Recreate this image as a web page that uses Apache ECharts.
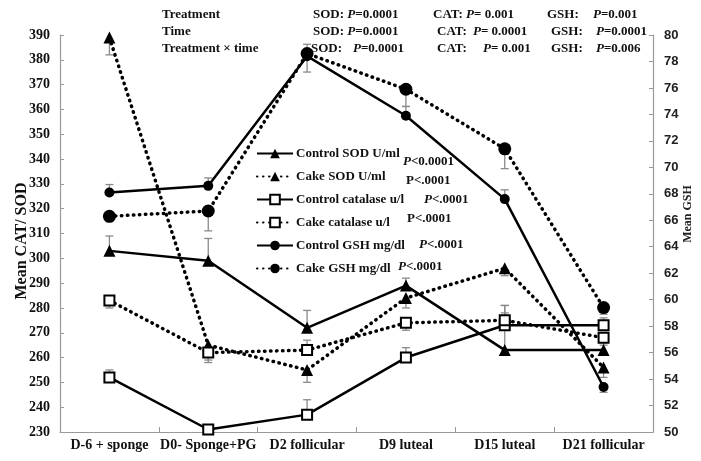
<!DOCTYPE html>
<html><head><meta charset="utf-8">
<script src="https://cdn.jsdelivr.net/npm/echarts@6/dist/echarts.min.js"></script>
<style>html,body{margin:0;padding:0;background:#fff}#c{width:701px;height:461px}</style>
</head><body><div id="c"></div>
<script>
const categories = ['D-6 + sponge','D0- Sponge+PG','D2 follicular','D9 luteal','D15 luteal','D21 follicular'];
const controlSOD = [303, 299, 272, 289, 263, 263];
const cakeSOD    = [389, 265, 255, 284, 296, 256];
const controlCAT = [252, 231, 237, 260, 273, 273];
const cakeCAT    = [283, 262, 263, 274, 275, 268];
const controlGSH = [68.1, 68.6, 78.4, 73.9, 67.6, 53.4];
const cakeGSH    = [66.3, 66.7, 78.6, 75.9, 71.4, 59.4];
// error bar end values (one-sided)
const controlSODErr = [309, 308, 279, 292, 281, 266];
const cakeSODErr    = [382, 258, 250, 280, 293, 252];
const controlCATErr = [255, null, 243, 264, 278, 276];
const cakeCATErr    = [280, 259, 267, 271, 281, 265];
const controlGSHErr = [68.7, 69.2, 77.2, 74.6, 68.3, 53.0];
const cakeGSHErr    = [65.9, 65.2, 79.3, 74.6, 69.9, 58.9];
const leftTicks = {min: 230, max: 390, interval: 10};
const rightTicks = {min: 50, max: 80, interval: 2};

const SERIF = '"Liberation Serif", "DejaVu Serif", serif';
const SANS = '"Liberation Sans", Arial, sans-serif';

function errSeries(vals, ends, axis) {
  const data = vals.map((v, i) => [i, v, ends[i] == null ? v : ends[i]]);
  return {
    type: 'custom', yAxisIndex: axis, z: 1, silent: true,
    renderItem: function (params, api) {
      const p = api.coord([api.value(0), api.value(1)]);
      const e = api.coord([api.value(0), api.value(2)]);
      if (Math.abs(p[1] - e[1]) < 0.5) return null;
      const w = 4;
      const st = {stroke: '#8a8a8a', lineWidth: 1.3};
      return {type: 'group', children: [
        {type: 'line', shape: {x1: p[0], y1: p[1], x2: e[0], y2: e[1]}, style: st},
        {type: 'line', shape: {x1: e[0] - w, y1: e[1], x2: e[0] + w, y2: e[1]}, style: st}
      ]};
    },
    data: data
  };
}
const dotted = {color: '#000', width: 3.5, type: [0.5, 5.5], cap: 'round'};
const solid = {color: '#000', width: 2.5};

function lineSeries(name, data, axis, symbol, size, ls, fill) {
  return {
    name: name, type: 'line', yAxisIndex: axis, data: data, z: 3,
    symbol: symbol, symbolSize: size, showSymbol: true,
    lineStyle: ls,
    itemStyle: {color: fill, borderColor: '#000', borderWidth: fill === '#fff' ? 2 : 0},
    emphasis: {disabled: true}
  };
}

const chart = echarts.init(document.getElementById('c'));
const axisLine = {show: true, lineStyle: {color: '#999', width: 1.2}};
chart.setOption({
  animation: false,
  backgroundColor: '#fff',
  grid: {left: 60, right: 48, top: 35, bottom: 29, containLabel: false, outerBoundsMode: 'none'},
  legend: {
    orient: 'vertical', left: 251, top: 142, itemWidth: 36, itemHeight: 12, itemGap: 10,
    textStyle: {fontFamily: SERIF, fontWeight: 'bold', fontSize: 13, color: '#111', padding: [0, 0, 0, -2]},
    data: ['Control SOD U/ml', 'Cake SOD U/ml', 'Control catalase u/l', 'Cake catalase u/l', 'Control GSH mg/dl', 'Cake GSH mg/dl']
  },
  xAxis: {
    type: 'category', data: categories, boundaryGap: true,
    axisLine: axisLine,
    axisTick: {show: true, inside: true, length: 5, lineStyle: {color: '#999'}},
    axisLabel: {fontFamily: SERIF, fontWeight: 'bold', fontSize: 14, color: '#111', margin: 6, interval: 0},
    splitLine: {show: false}
  },
  yAxis: [
    {type: 'value', min: leftTicks.min, max: leftTicks.max, interval: leftTicks.interval,
     axisLine: axisLine, axisTick: {show: true, inside: true, length: 4, lineStyle: {color: '#999'}},
     axisLabel: {fontFamily: SERIF, fontWeight: 'bold', fontSize: 14, color: '#111', margin: 10},
     splitLine: {show: false}},
    {type: 'value', min: rightTicks.min, max: rightTicks.max, interval: rightTicks.interval, position: 'right',
     axisLine: axisLine, axisTick: {show: true, inside: true, length: 4, lineStyle: {color: '#999'}},
     axisLabel: {fontFamily: SANS, fontWeight: 'bold', fontSize: 13, color: '#222', margin: 11},
     splitLine: {show: false}}
  ],
  graphic: (function () {
    const g = [];
    const base = {fontFamily: SERIF, fontWeight: 'bold', fontSize: 13, fill: '#111',
                  rich: {i: {fontFamily: SERIF, fontWeight: 'bold', fontStyle: 'italic', fontSize: 13, fill: '#111'}}};
    function t(x, y, text) {
      g.push({type: 'text', x: x, y: y, z: 10, style: Object.assign({text: text, verticalAlign: 'middle'}, base)});
    }
    t(162, 15, 'Treatment'); t(313, 15, 'SOD: {i|P}=0.0001'); t(433, 15, 'CAT: {i|P}= 0.001'); t(547, 15, 'GSH:'); t(593, 15, '{i|P}=0.001');
    t(162, 32, 'Time'); t(313, 32, 'SOD: {i|P}=0.0001'); t(437, 32, 'CAT:'); t(473, 32, '{i|P}= 0.0001'); t(551, 32, 'GSH:'); t(596, 32, '{i|P}=0.0001');
    t(162, 49, 'Treatment × time'); t(311, 49, 'SOD:'); t(353, 49, '{i|P}=0.0001'); t(437, 49, 'CAT:'); t(483, 49, '{i|P}= 0.001'); t(551, 49, 'GSH:'); t(596, 49, '{i|P}=0.006');
    t(403, 162, '{i|P}<0.0001');
    t(406, 181, 'P<.0001');
    t(424, 200, '{i|P}<.0001');
    t(407, 219, 'P<.0001');
    t(419, 245, '{i|P}<.0001');
    t(398, 267, '{i|P}<.0001');
    g.push({type: 'text', x: 22, y: 241, rotation: Math.PI / 2, z: 10,
      style: {text: 'Mean CAT/ SOD', align: 'center', verticalAlign: 'middle', fontFamily: SERIF, fontWeight: 'bold', fontSize: 16, fill: '#111'}});
    g.push({type: 'text', x: 688, y: 214, rotation: Math.PI / 2, z: 10,
      style: {text: 'Mean GSH', align: 'center', verticalAlign: 'middle', fontFamily: SERIF, fontWeight: 'bold', fontSize: 12, fill: '#222'}});
    return g;
  })(),
  series: [
    errSeries(controlSOD, controlSODErr, 0),
    errSeries(cakeSOD, cakeSODErr, 0),
    errSeries(controlCAT, controlCATErr, 0),
    errSeries(cakeCAT, cakeCATErr, 0),
    errSeries(controlGSH, controlGSHErr, 1),
    errSeries(cakeGSH, cakeGSHErr, 1),
    lineSeries('Control SOD U/ml', controlSOD, 0, 'triangle', 12, solid, '#000'),
    lineSeries('Cake SOD U/ml', cakeSOD, 0, 'triangle', 12, dotted, '#000'),
    lineSeries('Control catalase u/l', controlCAT, 0, 'rect', 10, solid, '#fff'),
    lineSeries('Cake catalase u/l', cakeCAT, 0, 'rect', 10, dotted, '#fff'),
    lineSeries('Control GSH mg/dl', controlGSH, 1, 'circle', 10, solid, '#000'),
    lineSeries('Cake GSH mg/dl', cakeGSH, 1, 'circle', 13, dotted, '#000')
  ]
});
</script></body></html>
